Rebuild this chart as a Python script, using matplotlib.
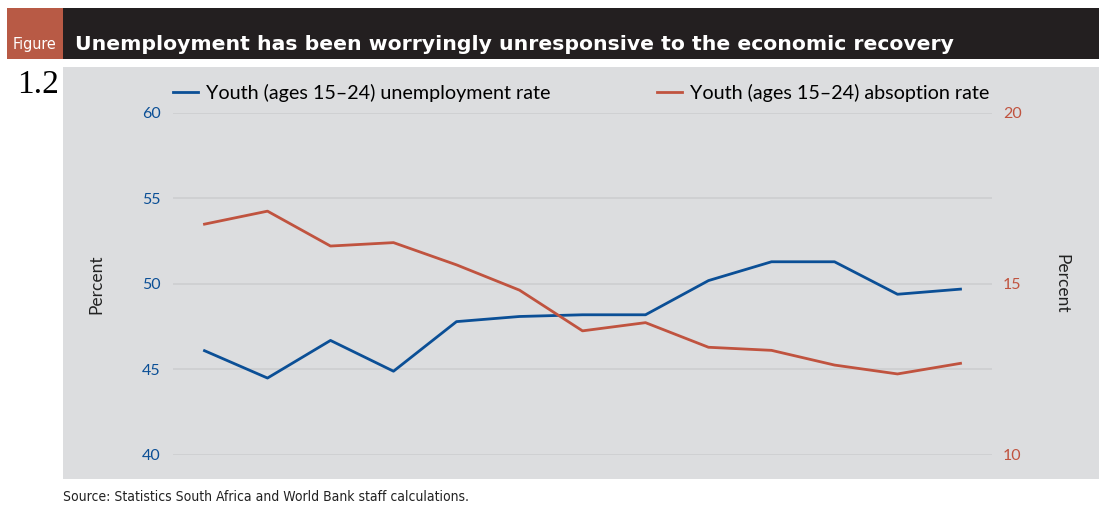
import matplotlib
matplotlib.use('Agg')
import matplotlib.pyplot as plt
from matplotlib.patches import Rectangle

# quarterly observations (x axis is unlabelled in the original)
periods = list(range(13))
youth_unemployment = [46.1, 44.5, 46.7, 44.9, 47.8, 48.1, 48.2, 48.2, 50.2, 51.3, 51.3, 49.4, 49.7]
youth_absorption = [16.75, 17.13, 16.11, 16.21, 15.56, 14.82, 13.63, 13.87, 13.15, 13.06, 12.63, 12.37, 12.68]
left_ticks = [40, 45, 50, 55, 60]
right_ticks = [10, 15, 20]

BLUE = '#0b4f96'
RED = '#c0533f'
PANEL = '#dcdddf'
DARK = '#231f20'

plt.rcParams['font.family'] = ['Lato', 'DejaVu Sans']

fig = plt.figure(figsize=(10.99, 5.08), dpi=100)
W, H = 1099, 508

def fx(px):
    return px / W

def fy(py):
    return 1 - py / H

# header bar, figure tag, grey panel (behind the axes)
for x0, x1, y0, y1, c in [(7, 1099, 8, 59, DARK), (7, 63, 8, 59, '#b85a45'), (63, 1099, 67, 479, PANEL)]:
    fig.add_artist(Rectangle((fx(x0), fy(y1)), fx(x1 - x0), (y1 - y0) / H, transform=fig.transFigure,
                             facecolor=c, edgecolor='none', zorder=-10))

fig.text(fx(35), fy(45), 'Figure', color='white', fontsize=11.5, ha='center', va='center',
         family='DejaVu Sans', fontstretch='condensed')
fig.text(fx(75), fy(44), 'Unemployment has been worryingly unresponsive to the economic recovery',
         color='white', fontsize=14.65, fontweight='bold', ha='left', va='center', family='DejaVu Sans')
fig.text(fx(17), fy(85), '1.2', color='black', fontsize=24, ha='left', va='center',
         family=['Liberation Serif', 'DejaVu Serif'])

ax = fig.add_axes([fx(173), fy(455), fx(992 - 173), (455 - 113) / H])
ax.patch.set_alpha(0)
ax2 = ax.twinx()
ax2.patch.set_alpha(0)

l1, = ax.plot(periods, youth_unemployment, color=BLUE, lw=2.0)
l2, = ax2.plot(periods, youth_absorption, color=RED, lw=2.0)

ax.set_xlim(-0.5, 12.5)
ax.set_ylim(40, 60)
ax2.set_ylim(10, 20)
ax.set_yticks(left_ticks)
ax2.set_yticks(right_ticks)
ax.set_xticks([])
ax.grid(axis='y', color='#cdced0', lw=1.2)
ax.set_axisbelow(True)

for a in (ax, ax2):
    for s in a.spines.values():
        s.set_visible(False)
    a.tick_params(length=0, labelsize=11.5)
ax.tick_params(axis='y', colors=BLUE, pad=9)
ax2.tick_params(axis='y', colors=RED, pad=8)

ax.set_ylabel('Percent', fontsize=12.5, color='#222222', labelpad=27)
ax2.set_ylabel('Percent', fontsize=12.5, color='#222222', rotation=270, labelpad=23, va='bottom')

fig.legend([l1, l2], ['Youth (ages 15–24) unemployment rate', 'Youth (ages 15–24) absoption rate'],
           loc='center', bbox_to_anchor=(fx(581), fy(93)), ncol=2, frameon=False,
           fontsize=14.2, handlelength=1.27, handletextpad=0.4, columnspacing=5.4)

fig.text(fx(63), fy(497), 'Source: Statistics South Africa and World Bank staff calculations.',
         fontsize=10, ha='left', va='center', color='#222222',
         family='DejaVu Sans', fontstretch='condensed')

fig.savefig('out.png', dpi=100)
